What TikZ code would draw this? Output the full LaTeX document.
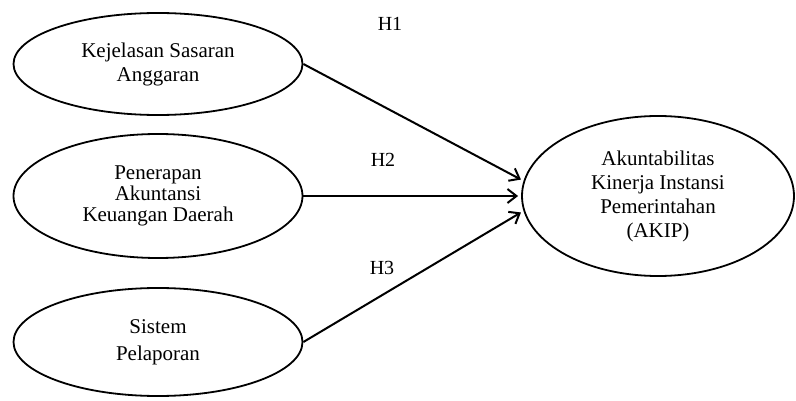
\documentclass[tikz,border=0pt]{standalone}
\usepackage{fontspec}
\setmainfont{Liberation Serif}
\usetikzlibrary{shapes.geometric,arrows.meta}
\begin{document}
\begin{tikzpicture}[x=1pt,y=-1pt,
  oval/.style={draw=black,line width=1.8pt,ellipse,inner sep=0pt,align=center,font=\fontsize{21}{24}\selectfont},
  link/.style={draw=black,line width=2pt,-{Straight Barb[length=9pt,width=14pt,line width=2pt]}},
  lbl/.style={font=\fontsize{20}{24}\selectfont}]
\useasboundingbox (0,0) rectangle (796,401);
\node[oval,minimum width=289pt,minimum height=102pt] (k1) at (158,64) {Kejelasan Sasaran\\Anggaran};
\node[oval,minimum width=289pt,minimum height=124pt] (k2) at (158,196) {Penerapan\\[-3pt]Akuntansi\\[-3pt]Keuangan Daerah};
\node[oval,minimum width=289pt,minimum height=108pt] (k3) at (158,342) {Sistem\\[3pt]Pelaporan};
\node[oval,minimum width=272pt,minimum height=160pt] (t) at (658,196) {Akuntabilitas\\Kinerja Instansi\\Pemerintahan\\(AKIP)};
\draw[link] (k1.east) -- ([shift={(-3pt,0pt)}]t.173);
\draw[link] (k2.east) -- ([shift={(-3pt,0pt)}]t.west);
\draw[link] (k3.east) -- ([shift={(-3pt,0pt)}]t.187);
\node[lbl] (h1) at (390,24) {H1};
\node[lbl] (h2) at (383,160) {H2};
\node[lbl] (h3) at (382,268) {H3};
\end{tikzpicture}
\end{document}
